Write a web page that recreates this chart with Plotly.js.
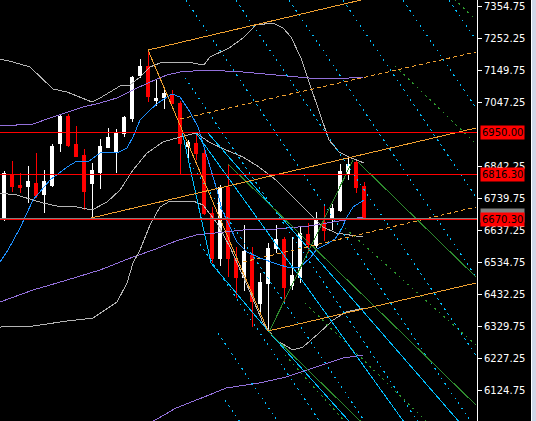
<!DOCTYPE html>
<html><head><meta charset="utf-8">
<script src="https://cdn.plot.ly/plotly-3.0.1.min.js"></script>
<style>
html,body{margin:0;padding:0;background:#000;}
#wrap{display:flex;width:536px;height:421px;overflow:hidden;}
#chart{width:531px;height:421px;}
#edge1{width:1px;height:421px;background:#FFFFFF;}
#edge2{width:4px;height:421px;background:#D0D8E8;}
#chart .scatterlayer path, #chart .boxlayer path{shape-rendering:crispEdges;}
</style>
</head><body><div id="wrap"><div id="chart"></div><div id="edge1"></div><div id="edge2"></div></div>
<script>
// ---- candles (price) ----
const open  = [6675.7,6816.7,6781.4,6778.2,6787.8,6752.6,6781.4,6916.0,7002.4,6912.8,
               6877.5,6787.8,6823.1,6903.1,6890.3,6948.0,6996.0,7130.6,7162.6,7053.7,
               7063.3,7069.7,7044.1,6906.3,6916.0,6883.9,6691.7,6547.6,6775.0,6547.6,
               6486.7,6557.2,6403.5,6467.5,6579.6,6608.5,6461.1,6486.7,6624.5,6589.2,
               6662.9,6675.7,6701.3,6819.9,6855.1,6778.2];
const high  = [6826.3,6858.3,6819.9,6842.3,6883.9,6829.5,6912.8,7008.8,7008.8,6970.4,
               6896.7,6851.9,6928.8,6964.0,6960.8,7002.4,7130.6,7185.0,7213.8,7117.8,
               7095.3,7085.7,7050.5,6925.6,6948.0,6893.5,6711.0,6781.4,6845.5,6582.8,
               6653.3,6582.8,6499.6,6595.6,6653.3,6614.9,6614.9,6646.9,6659.7,6694.9,
               6714.2,6720.6,6848.7,6867.9,6864.7,6791.0];
const low   = [6666.1,6759.0,6755.8,6723.8,6739.8,6691.7,6775.0,6887.1,6903.1,6871.1,
               6701.3,6672.5,6768.6,6899.9,6819.9,6935.2,6983.2,7124.2,7047.3,7034.5,
               7024.9,7040.9,6816.7,6861.5,6861.5,6685.3,6531.6,6522.0,6486.7,6419.5,
               6441.9,6326.6,6371.4,6310.6,6563.6,6406.7,6445.1,6467.5,6563.6,6579.6,
               6602.1,6637.3,6694.9,6797.4,6755.8,6672.5];
const close = [6819.9,6778.2,6775.0,6794.2,6749.4,6794.2,6906.3,7002.4,6909.6,6874.3,
               6762.2,6829.5,6906.3,6935.2,6948.0,6999.2,7124.2,7162.6,7066.5,7060.1,
               7076.1,7044.1,6916.0,6919.2,6883.9,6691.7,6547.6,6775.0,6547.6,6486.7,
               6570.0,6409.9,6470.7,6579.6,6608.5,6454.7,6493.1,6627.7,6592.4,6675.7,
               6637.3,6707.8,6826.3,6848.7,6775.0,6672.5];

// ---- indicators: [bar index], [price] ----
const maX   = [-0.5,0.5,2,3.625,5.75,7.875,9.125,10.5,12,13.25,14.125,15.375,16.125,17,18.25,19.25,20.375,21,22,23.25,24.25,25,25.75,26.625,27.25,28.25,29.125,30.375,32,34.125,35.75,37,38.25,39.125,40.375,41.375,42.125,42.875,43.625,45];
const maY   = [6534.8,6573.2,6643.7,6733.4,6797.4,6839.1,6858.3,6855.1,6883.9,6887.1,6883.9,6899.9,6935.2,6989.6,7021.7,7044.1,7063.3,7072.9,7063.3,7015.3,6967.2,6903.1,6845.5,6765.4,6701.3,6643.7,6598.8,6566.8,6547.6,6528.4,6515.6,6518.8,6547.6,6576.4,6592.4,6608.5,6637.3,6678.9,6711.0,6733.4];

const bbUpX = [-0.5,1.125,3.25,4.875,6.125,7.875,9.5,11,12,13.25,14.5,15.75,17,18.25,19.5,22.875,25,25.75,28.125,29.875,31.5,33.625,34.875,35.875,37.125,38.125,39.375,40.25,40.625,41.875,43.125,45];
const bbUpY = [7185.0,7175.4,7159.4,7117.8,7088.9,7079.3,7063.3,7047.3,7060.1,7079.3,7098.5,7101.7,7127.4,7159.4,7172.2,7175.4,7165.8,7191.4,7220.3,7252.3,7293.9,7300.3,7284.3,7255.5,7188.2,7111.3,7021.7,6957.6,6925.6,6887.1,6871.1,6851.9];

const bbMidX = [-0.5,1.625,3.625,4.875,6.625,9.125,11,12.875,14.5,16.125,17.875,19.875,22,24,25.625,27.75,29.875,31.875,34,35.625,37.375,38.625,39.875,41.5,43.125,44.875];
const bbMidY = [6755.8,6749.4,6733.4,6723.8,6714.2,6711.0,6701.3,6727.0,6765.4,6829.5,6883.9,6919.2,6935.2,6948.0,6919.2,6893.5,6871.1,6839.1,6797.4,6755.8,6707.8,6678.9,6646.9,6627.7,6621.3,6614.9];

const bbLoX = [-0.5,3.625,7.875,11.125,14.125,15.375,16.125,17,18.25,19.5,20.75,23.625,24.875,26.625,28.25,30.375,32.375,34,36.125,37.375,39.375,41.125,42.75,44.875];
const bbLoY = [6326.6,6329.8,6345.8,6355.4,6406.7,6467.5,6531.6,6573.2,6653.3,6711.0,6730.2,6730.2,6717.4,6659.7,6582.8,6461.1,6339.4,6284.9,6252.9,6262.5,6307.4,6349.0,6374.6,6387.4];

const envUpX = [-0.5,3.625,5.75,7.875,9.875,12,14.125,16.125,18.25,20.375,22,25.25,29.875,34,38.125,41.5,43.125,44.875];
const envUpY = [6970.4,6976.8,6996.0,7015.3,7031.3,7044.1,7060.1,7085.7,7111.3,7133.8,7143.4,7149.8,7143.4,7133.8,7124.2,7121.0,7124.2,7127.4];

const envMidX = [-0.5,3.625,7.875,12,16.125,18.625,21.5,24,29.875,34,38.125,42,44.875];
const envMidY = [6406.7,6445.1,6477.1,6509.2,6550.8,6573.2,6602.1,6621.3,6637.3,6640.5,6650.1,6666.1,6678.9];

const envLoX = [18.25,21.5,25.625,27.75,31.875,35.25,39,42.375,44.875];
const envLoY = [6019.1,6067.1,6108.8,6131.2,6147.2,6166.4,6198.5,6227.3,6236.9];

// ---- horizontal levels ----
const redLevels = [6950.00, 6816.30, 6670.30];
const redLabels = ["6950.00", "6816.30", "6670.30"];
const bidLevel = 6674.8;

// ---- pitchfork (orange) ----
const forkSolid = [
  {x:[18,59],      y:[7213.8,7460.5]},
  {x:[10.875,59],  y:[6675.7,6964.0]},
  {x:[33,59],      y:[6313.8,6467.5]},
  {x:[18,33],      y:[7213.8,6313.8]}
];
const forkDash = [
  {x:[22,59],      y:[6992.8,7207.4]},
  {x:[29.875,59],  y:[6534.8,6711.0]}
];

// ---- green lines ----
const greenSolid = [
  {x:[28,59],        y:[6848.7,6076.7]},
  {x:[33.125,43.625],y:[6310.6,6861.5]},
  {x:[44.25,59],     y:[6855.1,6486.7]},
  {x:[33.125,47.625],y:[6310.6,5948.6]}
];
const greenDash = [
  {x:[55.75,59],     y:[7390.0,7309.9]},
  {x:[48.875,59],    y:[7162.6,6912.8]},
  {x:[42.625,59],    y:[6643.7,6268.9]},
  {x:[37.625,52.75], y:[6403.5,6025.5]},
  {x:[35.125,43.875],y:[6236.9,5987.0]}
];

// ---- light blue lines ----
const blueSolid = [
  {x:[22.25,25.875,33.125,45.25], y:[6954.4,6531.6,6310.6,5964.6]},
  {x:[24,51.625],   y:[6948.0,5964.6]},
  {x:[25.5,58.875], y:[6948.0,5964.6]}
];
const blueDash = [
  {x:[54.78,59],   y:[7406.0,7245.9]},
  {x:[49.03,59],   y:[7406.0,7028.1]},
  {x:[41.53,59],   y:[7406.0,6743.6]},
  {x:[34.78,59],   y:[7406.0,6487.4]},
  {x:[28.15,59],   y:[7406.0,6236.3]},
  {x:[21.9,59],    y:[7406.0,5999.2]},
  {x:[22.625,52.525], y:[7125.1,5993.5]},
  {x:[23.25,45.9], y:[6852.5,5993.5]},
  {x:[24.5,40.275],y:[6591.8,5993.5]},
  {x:[26.75,35.025],y:[6307.4,5993.5]},
  {x:[27.625,30.275],y:[6092.8,5993.5]}
];

// ---- axis ticks ----
const tickVals = [7354.75,7252.25,7149.75,7047.25,6842.25,6739.75,6637.25,6534.75,6432.25,6329.75,6227.25,6124.75,6022.25];
const tickText = ["7354.75","7252.25","7149.75","7047.25","6842.25","6739.75","6637.25","6534.75","6432.25","6329.75","6227.25","6124.75","6022.25"];

const xFull = [-0.5, 59.125];
const barIdx = open.map((_, i) => i);

const traces = [];
traces.push({type:'candlestick', x:barIdx, open:open, high:high, low:low, close:close,
  increasing:{line:{color:'#FFFFFF',width:1}, fillcolor:'#FFFFFF'},
  decreasing:{line:{color:'#FF0000',width:1}, fillcolor:'#FF0000'},
  whiskerwidth:0, hoverinfo:'skip'});

function line(x, y, color, dash, width) {
  traces.push({type:'scatter', mode:'lines', x:x, y:y, hoverinfo:'skip',
    line:{color:color, width:width||1, dash:dash||'solid'}});
}
line(envUpX, envUpY, '#9370DB');
line(envMidX, envMidY, '#9370DB');
line(envLoX, envLoY, '#9370DB');
line(bbUpX, bbUpY, '#B4B4B4');
line(bbMidX, bbMidY, '#B4B4B4');
line(bbLoX, bbLoY, '#B4B4B4');
line(maX, maY, '#1E90FF');
blueDash.forEach(l => line(l.x, l.y, '#00BFFF', '2px,4px'));
greenDash.forEach(l => line(l.x, l.y, '#2E9A2E', '2px,4px'));
blueSolid.forEach(l => line(l.x, l.y, '#00BFFF'));
greenSolid.forEach(l => line(l.x, l.y, '#2E8B2E'));
forkDash.forEach(l => line(l.x, l.y, '#F0A030', '4px,3px'));
forkSolid.forEach(l => line(l.x, l.y, '#F0A030'));
line(xFull, [bidLevel, bidLevel], '#808080');
redLevels.forEach(v => line(xFull, [v, v], '#FF0000'));

const annotations = [];
annotations.push({xref:'paper', x:1, xanchor:'left', xshift:3, y:bidLevel, yref:'y', yshift:3,
  text:'6674.80', showarrow:false, bgcolor:'#808080', borderpad:1,
  font:{family:'DejaVu Sans', size:10, color:'#808080'}});
redLevels.forEach((v, i) => annotations.push({xref:'paper', x:1, xanchor:'left', xshift:3, y:v, yref:'y',
  text:redLabels[i], showarrow:false, bgcolor:'#FF0000', borderpad:1,
  font:{family:'DejaVu Sans', size:10, color:'#000000'}}));

const layout = {
  width:531, height:421,
  paper_bgcolor:'#000000', plot_bgcolor:'#000000',
  margin:{l:0, r:54, t:0, b:0, pad:0},
  showlegend:false, boxgap:0.35,
  xaxis:{range:xFull, visible:false, rangeslider:{visible:false}, fixedrange:true},
  yaxis:{range:[6025.6, 7374], side:'right', tickmode:'array', tickvals:tickVals, ticktext:tickText,
    ticks:'outside', ticklen:4, tickcolor:'#FFFFFF', showline:true, linecolor:'#FFFFFF', linewidth:1,
    showgrid:false, zeroline:false, fixedrange:true,
    tickfont:{family:'DejaVu Sans', size:10, color:'#FFFFFF'}},
  annotations:annotations
};
Plotly.newPlot('chart', traces, layout, {staticPlot:true, displayModeBar:false});
</script>
</body></html>
